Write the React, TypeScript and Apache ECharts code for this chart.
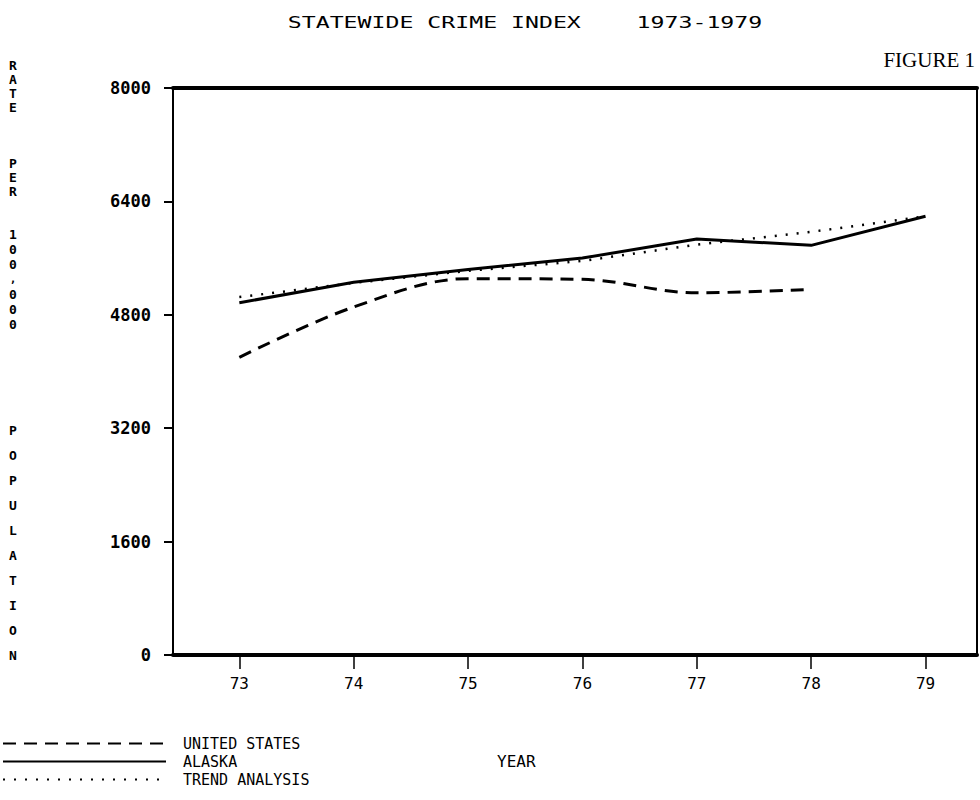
import React, { useEffect, useRef } from "react";
import * as echarts from "echarts";

// ---- data ----
const years = [73, 74, 75, 76, 77, 78, 79];
const usValues = [4200, 4910, 5310, 5300, 5110, 5160];
const alaskaValues = [4970, 5260, 5440, 5600, 5870, 5780, 6190];
const trendValues = [5050, 5250, 5420, 5560, 5790, 5970, 6190];
const seriesNames = ["UNITED STATES", "ALASKA", "TREND ANALYSIS"];
const yMin = 0;
const yMax = 8000;
const yStep = 1600;
const titleText = "STATEWIDE CRIME INDEX    1973-1979";
const figureText = "FIGURE 1";
const xAxisTitle = "YEAR";
const yAxisTitle = "RATE PER 100,000 POPULATION";

const MONO = "'DejaVu Sans Mono', 'Liberation Mono', monospace";

function pairs(vals: number[]) {
  return vals.map((v, i) => [years[i], v]);
}

// vertical stacked letters for the y-axis title
function verticalLabel() {
  const words = yAxisTitle.split(" ");
  const layout = [
    { y0: 65, pitch: 14 },
    { y0: 163, pitch: 14 },
    { y0: 234, pitch: 15 },
    { y0: 430, pitch: 25 },
  ];
  const els: any[] = [];
  words.forEach((w, wi) => {
    const { y0, pitch } = layout[wi];
    let k = 0;
    for (const ch of w) {
      els.push({
        type: "text",
        x: 13,
        y: y0 + k * pitch,
        style: {
          text: ch,
          font: `bold ${ch === "," ? 11 : 13}px ${MONO}`,
          fill: "#000",
          textAlign: "center",
          textVerticalAlign: "middle",
        },
      });
      k += 1;
    }
  });
  return els;
}

export default function App() {
  const ref = useRef<HTMLDivElement>(null);
  useEffect(() => {
    if (!ref.current) return;
    const chart = echarts.init(ref.current, null, { renderer: "svg" });
    const axisFont = { fontFamily: MONO, fontSize: 16, color: "#000" };
    const option: any = {
      animation: false,
      backgroundColor: "#fff",
      grid: { left: 173, right: 3, top: 88, bottom: 145, show: false },
      legend: {
        orient: "vertical",
        left: 2,
        top: 736,
        itemWidth: 163,
        itemHeight: 14,
        itemGap: 3,
        padding: 0,
        selectedMode: false,
        data: seriesNames,
        itemStyle: { opacity: 0 },
        textStyle: { fontFamily: MONO, fontSize: 15, color: "#000", padding: [0, 0, 0, 12] },
      },
      xAxis: [
        {
          type: "value",
          min: 72.42,
          max: 79.45,
          position: "bottom",
          splitLine: { show: false },
          axisLine: { show: true, onZero: false, lineStyle: { color: "#000", width: 4 } },
          axisTick: { show: true, customValues: years, length: 14, lineStyle: { color: "#000", width: 1.5 } },
          axisLabel: { customValues: years, margin: 20, ...axisFont, fontSize: 16 },
        },
        {
          type: "value",
          min: 72.42,
          max: 79.45,
          position: "top",
          splitLine: { show: false },
          axisLine: { show: true, onZero: false, lineStyle: { color: "#000", width: 4 } },
          axisTick: { show: false },
          axisLabel: { show: false },
        },
      ],
      yAxis: [
        {
          type: "value",
          min: yMin,
          max: yMax,
          interval: yStep,
          position: "left",
          splitLine: { show: false },
          axisLine: { show: true, onZero: false, lineStyle: { color: "#000", width: 2 } },
          axisTick: { show: true, length: 9, lineStyle: { color: "#000", width: 2 } },
          axisLabel: { margin: 22, ...axisFont, fontSize: 17, fontWeight: "bold", formatter: (v: number) => String(v) },
        },
        {
          type: "value",
          min: yMin,
          max: yMax,
          interval: yStep,
          position: "right",
          splitLine: { show: false },
          axisLine: { show: true, onZero: false, lineStyle: { color: "#000", width: 2 } },
          axisTick: { show: false },
          axisLabel: { show: false },
        },
      ],
      series: [
        {
          name: seriesNames[0],
          type: "line",
          data: pairs(usValues),
          smooth: 0.35,
          symbol: "none",
          lineStyle: { color: "#000", width: 3, type: [13, 8] },
          itemStyle: { color: "#000" },
        },
        {
          name: seriesNames[1],
          type: "line",
          data: pairs(alaskaValues),
          symbol: "none",
          lineStyle: { color: "#000", width: 3, type: "solid" },
          itemStyle: { color: "#000" },
        },
        {
          name: seriesNames[2],
          type: "line",
          data: pairs(trendValues),
          symbol: "none",
          lineStyle: { color: "#000", width: 2.5, type: [2, 9] },
          itemStyle: { color: "#000" },
        },
      ],
      graphic: [
        {
          type: "text",
          x: 525,
          y: 23,
          scaleX: 1.45,
          style: { text: titleText, font: `16px ${MONO}`, fill: "#000", textAlign: "center", textVerticalAlign: "middle" },
        },
        {
          type: "text",
          x: 975,
          y: 60,
          style: { text: figureText, font: "21px 'Liberation Serif', serif", fill: "#000", textAlign: "right", textVerticalAlign: "middle" },
        },
        {
          type: "text",
          x: 497,
          y: 761,
          style: { text: xAxisTitle, font: `16px ${MONO}`, fill: "#000", textAlign: "left", textVerticalAlign: "middle" },
        },
        ...verticalLabel(),
      ],
    };
    chart.setOption(option);
    return () => chart.dispose();
  }, []);
  return (
    <div
      ref={ref}
      style={{ position: "absolute", left: 0, top: 0, width: 980, height: 800, background: "#fff" }}
    />
  );
}
